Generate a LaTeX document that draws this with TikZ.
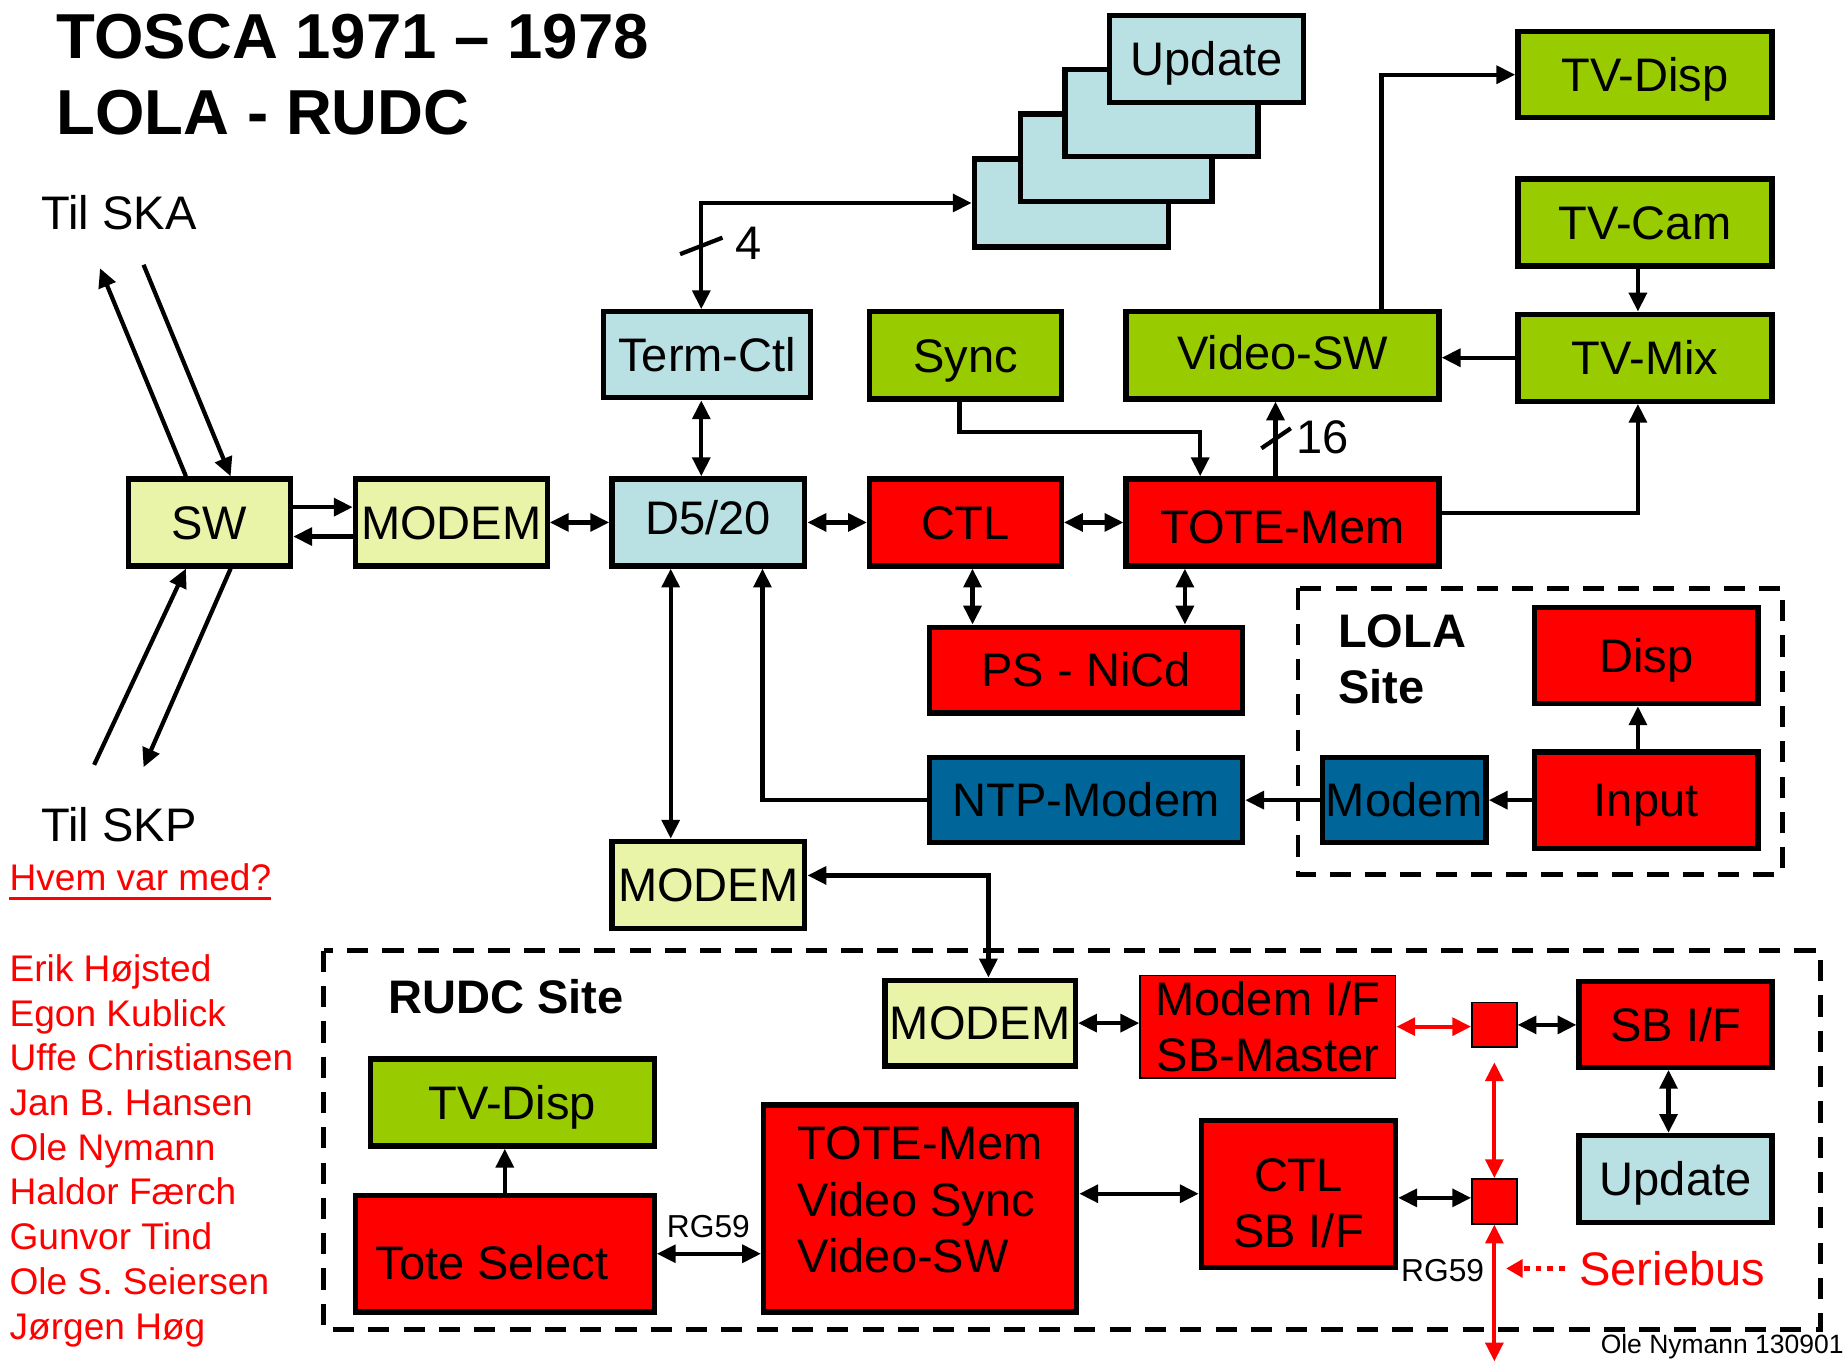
\documentclass[tikz,border=0pt]{standalone}
\usepackage{fontspec}
\setmainfont{Liberation Sans}
\usetikzlibrary{arrows.meta}
\definecolor{termblue}{HTML}{B9E0E3}
\definecolor{tvgreen}{HTML}{99CC00}
\definecolor{modemyel}{HTML}{EAF4A8}
\definecolor{ntpblue}{HTML}{006699}
\tikzset{
  >={Triangle[length=16pt,width=15pt]},
  blk/.style={draw=black, line width=4.5pt, inner sep=0pt, text height=28.6pt, text depth=0pt, font=\fontsize{40}{48}\selectfont},
  multi/.style={text height=, text depth=},
  cyanblk/.style={blk, fill=termblue},
  greenblk/.style={blk, fill=tvgreen},
  yelblk/.style={blk, fill=modemyel},
  redblk/.style={blk, fill=red},
  blueblk/.style={blk, fill=ntpblue},
  thinblk/.style={blk, fill=red, line width=1.5pt},
  link/.style={draw=black, line width=3.6pt, ->},
  dlink/.style={draw=black, line width=3.6pt, <->},
  buslink/.style={draw=red, line width=3.6pt, <->},
  site/.style={draw=black, line width=4pt, dash pattern=on 18pt off 12pt},
  lab/.style={inner sep=0pt, font=\fontsize{40}{48}\selectfont},
  namelab/.style={inner sep=0pt, text=red, font=\fontsize{31.5}{38}\selectfont},
}
\begin{document}
\begin{tikzpicture}[x=1pt,y=-1pt]
\useasboundingbox (0,0) rectangle (1568,1157);
\fill[white] (0,0) rectangle (1568,1157);
% title and outside lines
\node[inner sep=0pt, anchor=base west, font=\fontsize{54}{60}\selectfont\bfseries] (title) at (48,50) {TOSCA 1971 -- 1978};
\node[inner sep=0pt, anchor=base west, font=\fontsize{54}{60}\selectfont\bfseries] (subtitle) at (48,114) {LOLA - RUDC};
\node[lab, anchor=base west] (ska) at (35,195) {Til SKA};
\node[lab, anchor=base west] (skp) at (35,715) {Til SKP};
\node[namelab, anchor=base west] (hvem) at (8,757) {Hvem var med?};
\draw[red, line width=2.5pt] ([yshift=-6pt]hvem.south west) -- ([yshift=-6pt]hvem.south east);
\node[namelab, anchor=north west, align=left] (names) at (8,811) {Erik Højsted\\Egon Kublick\\Uffe Christiansen\\Jan B. Hansen\\Ole Nymann\\Haldor Færch\\Gunvor Tind\\Ole S. Seiersen\\Jørgen Høg};
\coordinate (skaA) at (85,228);
\coordinate (skaB) at (122,225);
\coordinate (skpA) at (80,650);
\coordinate (skpB) at (122,652);
% main row
\node[yelblk, minimum width=138, minimum height=74] (sw) at (178,444) {SW};
\node[yelblk, minimum width=163, minimum height=74] (modema) at (383.5,444) {MODEM};
\node[cyanblk, minimum width=164, minimum height=74] (d520) at (602,444) {\raisebox{4pt}[\height][\depth]{D5/20}};
\node[redblk, minimum width=163, minimum height=74] (ctl) at (820.5,444) {CTL};
\node[redblk, minimum width=266, minimum height=74] (totemem) at (1090,444) {\raisebox{-4pt}[\height][\depth]{TOTE-Mem}};
% upper row
\node[cyanblk, minimum width=176, minimum height=73] (termctl) at (601,301.5) {Term-Ctl};
\node[greenblk, minimum width=163, minimum height=74] (sync) at (820.5,302) {Sync};
\node[greenblk, minimum width=266, minimum height=74] (videosw) at (1090,302) {\raisebox{2pt}[\height][\depth]{Video-SW}};
\node[greenblk, minimum width=216, minimum height=73] (tvdisp) at (1398,63.5) {TV-Disp};
\node[greenblk, minimum width=216, minimum height=74] (tvcam) at (1398,189) {TV-Cam};
\node[greenblk, minimum width=216, minimum height=74] (tvmix) at (1398,304) {TV-Mix};
% update stack
\node[cyanblk, minimum width=165, minimum height=75] (upda) at (910.5,172.5) {};
\node[cyanblk, minimum width=163, minimum height=74] (updb) at (948.5,134) {};
\node[cyanblk, minimum width=164, minimum height=74] (updc) at (987,96) {};
\node[cyanblk, minimum width=165, minimum height=74] (updd) at (1025.5,50) {Update};
% lower middle
\node[redblk, minimum width=266, minimum height=73] (psnicd) at (923,569.5) {PS - NiCd};
\node[blueblk, minimum width=266, minimum height=72] (ntpmodem) at (923,680) {NTP-Modem};
\node[yelblk, minimum width=164, minimum height=74] (modemb) at (602,752) {MODEM};
% LOLA site
\draw[site] (1103,500) rectangle (1515,743);
\node[inner sep=0pt, anchor=north west, align=left, font=\fontsize{40}{48}\selectfont\bfseries] (lola) at (1137,522) {LOLA\\Site};
\node[redblk, minimum width=190, minimum height=82] (disp) at (1399,557) {Disp};
\node[redblk, minimum width=190, minimum height=82] (input) at (1399,680) {Input};
\node[blueblk, minimum width=139, minimum height=72] (lolamodem) at (1193.5,680) {Modem};
% RUDC site
\draw[site] (275,808) rectangle (1547,1130);
\node[inner sep=0pt, anchor=base west, font=\fontsize{40}{48}\selectfont\bfseries] (rudc) at (330,861) {RUDC Site};
\node[yelblk, minimum width=162, minimum height=73] (modemc) at (833,869.5) {MODEM};
\node[thinblk, multi, minimum width=217, minimum height=87, align=center] (modemif) at (1077.5,872.5) {Modem I/F\\SB-Master};
\node[thinblk, minimum width=38, minimum height=38] (sqa) at (1270,871) {};
\node[redblk, minimum width=164, minimum height=73] (sbif) at (1424,870.5) {SB I/F};
\node[cyanblk, minimum width=164, minimum height=74] (updr) at (1424,1002) {Update};
\node[thinblk, minimum width=38, minimum height=38] (sqb) at (1270,1021) {};
\node[redblk, multi, minimum width=165, minimum height=125, align=center] (ctlsb) at (1103.5,1014.5) {\raisebox{-8pt}[\height][\depth]{CTL}\\\raisebox{-8pt}[\height][\depth]{SB I/F}};
\node[redblk, multi, minimum width=266, minimum height=176, align=left] (totevideo) at (782,1027) {\raisebox{7pt}[\height][\depth]{TOTE-Mem}\\\raisebox{7pt}[\height][\depth]{Video Sync}\\\raisebox{7pt}[\height][\depth]{Video-SW}};
\node[redblk, minimum width=254, minimum height=99] (toteselect) at (429,1065.5) {\hspace*{-22pt}\raisebox{-8pt}[\height][\depth]{Tote Select}};
\node[greenblk, minimum width=241, minimum height=74] (tvdispr) at (435.5,937) {TV-Disp};
\node[inner sep=0pt, font=\fontsize{27}{30}\selectfont] (rga) at (602,1042) {RG59};
\node[inner sep=0pt, font=\fontsize{27}{30}\selectfont] (rgb) at (1226,1080) {RG59};
\node[inner sep=0pt, anchor=west, text=red, font=\fontsize{40}{48}\selectfont] (seriebus) at (1342,1078) {Seriebus};
\coordinate (busend) at (1270,1157);
\coordinate (busmark) at (1280,1078);
\node[inner sep=0pt, anchor=base east, font=\fontsize{22.5}{26}\selectfont] (credit) at (1567,1150) {Ole Nymann 130901};
% connectors, top part
\draw[link] ([xshift=-20pt]sw.north) -- (skaA);
\draw[link] (skaB) -- ([xshift=18pt]sw.north);
\draw[link] (skpA) -- ([xshift=-20pt]sw.south);
\draw[link] ([xshift=18pt]sw.south) -- (skpB);
\draw[link] ([yshift=13pt]sw.east) -- ([yshift=13pt]modema.west);
\draw[link] ([yshift=-12pt]modema.west) -- ([yshift=-12pt]sw.east);
\draw[dlink] (modema.east) -- (d520.west);
\draw[dlink] (d520.east) -- (ctl.west);
\draw[dlink] (ctl.east) -- (totemem.west);
\draw[dlink] ([xshift=-5pt]termctl.south) -- ([xshift=-5pt]termctl.south |- d520.north);
\draw[dlink] ([xshift=-5pt]termctl.north) |- (upda.west);
\draw[line width=3.6pt] (578,216) -- (614,202);
\node[lab] (four) at (636,207) {4};
\draw[link] ([xshift=-5pt]sync.south) -- ++(0,26) -| ([xshift=-70pt]totemem.north);
\draw[link] ([xshift=-6pt]totemem.north) -- ([xshift=-6pt]videosw.south);
\draw[line width=3.6pt] (1072,381) -- (1097,364);
\node[lab] (sixteen) at (1124,372) {16};
\draw[link] ([xshift=84pt]videosw.north) |- (tvdisp.west);
\draw[link] ([xshift=-6pt]tvcam.south) -- ([xshift=-6pt]tvmix.north);
\draw[link] (tvmix.west) -- (tvmix.west -| videosw.east);
\draw[link] ([yshift=8pt]totemem.east) -| ([xshift=-6pt]tvmix.south);
\draw[dlink] ([xshift=6pt]ctl.south) -- ([xshift=6pt]ctl.south |- psnicd.north);
\draw[dlink] ([xshift=-83pt]totemem.south) -- ([xshift=-83pt]totemem.south |- psnicd.north);
% connectors, LOLA
\draw[link] ([xshift=-7pt]input.north) -- ([xshift=-7pt]disp.south);
\draw[link] (input.west) -- (lolamodem.east);
\draw[link] (lolamodem.west) -- (ntpmodem.east);
\draw[link] (ntpmodem.west) -| ([xshift=46pt]d520.south);
\draw[dlink] ([xshift=-32pt]d520.south) -- ([xshift=-32pt]d520.south |- modemb.north);
\draw[dlink] ([yshift=8pt]modemb.east) -| ([xshift=7pt]modemc.north);
% connectors, RUDC
\draw[dlink] (modemc.east) -- (modemc.east -| modemif.west);
\draw[buslink] (modemif.east) -- (modemif.east -| sqa.west);
\draw[dlink] (sqa.east) -- (sqa.east -| sbif.west);
\draw[dlink] ([xshift=-6pt]sbif.south) -- ([xshift=-6pt]updr.north);
\draw[buslink] ([yshift=-12pt]sqa.south) -- (sqb.north);
\draw[buslink] (sqb.south) -- (busend);
\draw[dlink] ([yshift=3pt]sqb.west -| ctlsb.east) -- ([yshift=3pt]sqb.west);
\draw[dlink] (ctlsb.west -| totevideo.east) -- (ctlsb.west);
\draw[dlink] (toteselect.east) -- (toteselect.east -| totevideo.west);
\draw[link] (toteselect.north) -- (toteselect.north |- tvdispr.south);
\draw[red, line width=4pt, dash pattern=on 5pt off 5pt, -{Triangle[length=14pt,width=15pt]}] ([xshift=-12pt]seriebus.west) -- (busmark);
\end{tikzpicture}
\end{document}
